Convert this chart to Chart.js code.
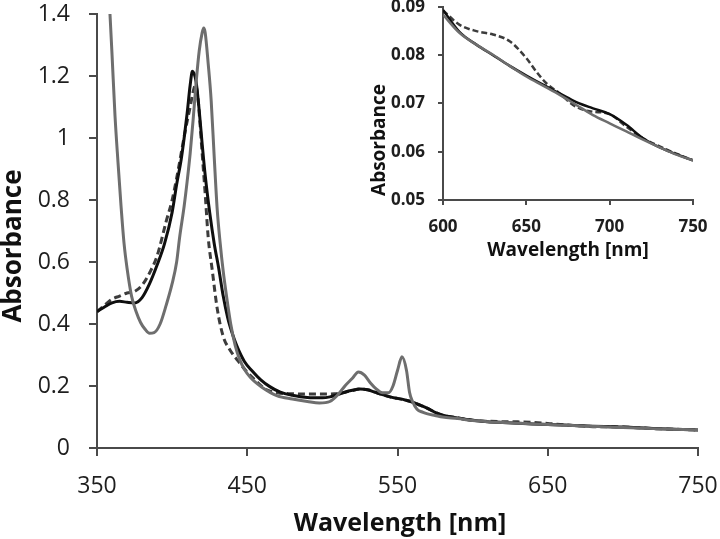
<!DOCTYPE html>
<html>
<head>
<meta charset="utf-8">
<script src="https://cdn.jsdelivr.net/npm/chart.js@4.4.1/dist/chart.umd.min.js"></script>
<style>
  html, body { margin: 0; padding: 0; background: #ffffff; }
  #wrap { position: relative; width: 720px; height: 539px; overflow: hidden; background: #ffffff; }
  #main { position: absolute; left: 0; top: 0; }
  #inset { position: absolute; left: 360px; top: 0; }
</style>
</head>
<body>
<div id="wrap">
  <canvas id="main" width="720" height="539"></canvas>
  <canvas id="inset" width="360" height="270"></canvas>
</div>
<script>
// ---------- Main panel data (350–590 nm; 600–750 nm continues with the inset data) ----------
const wlBlack = [350,355,360,365,370,375,380,385,390,395,400,403,406,408,410,412,413.5,416,418,420,422,425,428,431,434,437,440,443,448,453,459,465,472,480,490,500,505,510,515,520,525,530,535,540,545,550,555,560,565,570,575,580,590];
const absBlack = [0.44,0.455,0.468,0.473,0.47,0.468,0.485,0.53,0.59,0.66,0.76,0.85,0.93,1.0,1.08,1.17,1.215,1.18,1.09,0.98,0.88,0.76,0.66,0.58,0.49,0.42,0.37,0.33,0.28,0.25,0.22,0.198,0.18,0.17,0.163,0.162,0.165,0.172,0.18,0.186,0.19,0.188,0.18,0.172,0.165,0.16,0.155,0.148,0.138,0.128,0.115,0.106,0.097];

const wlDashed = [350,355,360,365,370,375,380,385,390,396,400,403,406,409,412,414,415.5,417,418.5,420,422,424,426.7,430,434,438,444,449,455,462,470,480,490,500,508,515,520,525,530,535,540,545,550,555,560,565,570,575,580,590];
const absDashed = [0.44,0.46,0.48,0.49,0.5,0.505,0.525,0.565,0.62,0.73,0.8,0.87,0.95,1.03,1.1,1.15,1.17,1.14,1.05,0.95,0.82,0.68,0.574,0.45,0.36,0.32,0.28,0.25,0.22,0.19,0.178,0.175,0.174,0.174,0.175,0.18,0.186,0.19,0.188,0.18,0.172,0.165,0.16,0.155,0.148,0.138,0.128,0.115,0.106,0.097];

const wlGray = [350,355,358,360,362,364,366,368,370,373,376,379,382,385,388,392,396,400,403,405,408,410,412,414,416,418,420,421,422,424,426,428,430,432,434,436.5,439,442,445,448,452,460,470,480,490,498,505,510,515,520,524,528,532,536,540,544,547,550,553,556,558,560,563,567,570,575,580,590];
const absGray = [2.3,1.75,1.46,1.27,1.07,0.92,0.78,0.66,0.58,0.49,0.44,0.405,0.383,0.37,0.372,0.40,0.46,0.53,0.6,0.68,0.78,0.86,0.95,1.06,1.18,1.28,1.34,1.355,1.34,1.24,1.12,0.94,0.77,0.66,0.57,0.48,0.40,0.33,0.285,0.255,0.228,0.195,0.168,0.158,0.15,0.145,0.15,0.17,0.2,0.225,0.245,0.235,0.21,0.19,0.178,0.178,0.2,0.25,0.294,0.25,0.18,0.15,0.125,0.115,0.11,0.105,0.1,0.095];

// ---------- Inset data (600–750 nm) ----------
const wlInset = [600,610,620,630,640,650,660,670,680,690,700,710,720,730,740,750];
const insetBlack = [0.0894,0.0848,0.0822,0.0800,0.0778,0.0758,0.0739,0.0721,0.0703,0.0690,0.0678,0.0656,0.0628,0.0609,0.0595,0.0582];
const insetGray  = [0.0884,0.0846,0.0822,0.0801,0.0778,0.0756,0.0737,0.0718,0.0697,0.0676,0.0659,0.0642,0.0625,0.0609,0.0594,0.0582];
const wlInsetDashed = [600,610,620,630,640,650,656,662,670,678,686,690,700,710,720,730,740,750];
const insetDashed = [0.0893,0.0863,0.0850,0.0843,0.0829,0.0794,0.0766,0.0742,0.0721,0.0697,0.0685,0.0683,0.0678,0.0652,0.0628,0.0611,0.0596,0.0582];

// ---------- Tick labels ----------
const mainXTicks = [350,450,550,650,750];
const mainYTicks = [0,0.2,0.4,0.6,0.8,1,1.2,1.4];
const insetXTicks = [600,650,700,750];
const insetYTicks = [0.05,0.06,0.07,0.08,0.09];

const xTitle = 'Wavelength [nm]';
const yTitle = 'Absorbance';

function pts(xs, ys) { return xs.map((x, i) => ({ x: x, y: ys[i] })); }

const axisTitles = {
  id: 'axisTitles',
  afterDraw(chart, args, opts) {
    const ctx = chart.ctx;
    (opts.items || []).forEach(it => {
      ctx.save();
      ctx.font = it.font;
      ctx.fillStyle = it.color;
      ctx.textAlign = 'center';
      ctx.textBaseline = 'middle';
      ctx.translate(it.x, it.y);
      ctx.rotate(it.rotation || 0);
      ctx.fillText(it.text, 0, 0);
      ctx.restore();
    });
  }
};

const AXIS = '#4a4a4a';
const C_BLACK = '#0f0f0f', C_DASH = '#3c3c3c', C_GRAY = '#6e6e6e';

function makeScale(opts) {
  return {
    type: 'linear',
    min: opts.min, max: opts.max,
    afterBuildTicks: s => { s.ticks = opts.ticks.map(v => ({ value: v })); },
    afterFit: s => {
      if (opts.width !== undefined) s.width = opts.width;
      if (opts.height !== undefined) s.height = opts.height;
      s.paddingTop = 0; s.paddingBottom = 0; s.paddingLeft = 0; s.paddingRight = 0;
    },
    grid: { display: true, drawOnChartArea: false, drawTicks: true, tickLength: opts.tl, color: AXIS, lineWidth: 2 },
    border: { display: true, color: AXIS, width: 2 },
    ticks: {
      font: opts.font, color: '#1e1e1e', padding: opts.pad, maxRotation: 0, autoSkip: false,
      callback: v => String(v)
    }
  };
}

const mainFont = { family: 'Open Sans', size: 23 };

new Chart(document.getElementById('main'), {
  type: 'line',
  data: {
    datasets: [
      { data: pts(wlGray.concat(wlInset), absGray.concat(insetGray)), borderColor: C_GRAY, borderWidth: 3 },
      { data: pts(wlBlack.concat(wlInset), absBlack.concat(insetBlack)), borderColor: C_BLACK, borderWidth: 3 },
      { data: pts(wlDashed.concat(wlInsetDashed), absDashed.concat(insetDashed)), borderColor: C_DASH, borderWidth: 3, borderDash: [7, 4] }
    ]
  },
  options: {
    responsive: false, animation: false, devicePixelRatio: 1,
    layout: { padding: { left: 0, right: 22, top: 14, bottom: 0 } },
    elements: { point: { radius: 0 }, line: { cubicInterpolationMode: 'monotone', fill: false } },
    plugins: {
      legend: { display: false }, tooltip: { enabled: false },
      axisTitles: { items: [
        { text: xTitle, x: 400, y: 524, font: 'bold 25px "Open Sans"', color: '#111' },
        { text: yTitle, x: 14, y: 246, rotation: -Math.PI / 2, font: 'bold 26px "Open Sans"', color: '#111' }
      ] }
    },
    scales: {
      x: makeScale({ min: 350, max: 750, ticks: mainXTicks, height: 91, tl: 8, pad: 17, font: mainFont }),
      y: makeScale({ min: 0, max: 1.4, ticks: mainYTicks, width: 97, tl: 8, pad: 19, font: mainFont })
    }
  },
  plugins: [axisTitles]
});

const insetFont = { family: 'Open Sans', size: 17, weight: 'bold' };

new Chart(document.getElementById('inset'), {
  type: 'line',
  data: {
    datasets: [
      { data: pts(wlInset, insetGray), borderColor: C_GRAY, borderWidth: 2.5 },
      { data: pts(wlInset, insetBlack), borderColor: C_BLACK, borderWidth: 2.5 },
      { data: pts(wlInsetDashed, insetDashed), borderColor: C_DASH, borderWidth: 2.5, borderDash: [6, 3] }
    ]
  },
  options: {
    responsive: false, animation: false, devicePixelRatio: 1,
    layout: { padding: { left: 0, right: 27, top: 7, bottom: 0 } },
    elements: { point: { radius: 0 }, line: { cubicInterpolationMode: 'monotone', fill: false } },
    plugins: {
      legend: { display: false }, tooltip: { enabled: false },
      axisTitles: { items: [
        { text: xTitle, x: 208, y: 251, font: 'bold 19px "Open Sans"', color: '#111' },
        { text: yTitle, x: 20, y: 140, rotation: -Math.PI / 2, font: 'bold 19px "Open Sans"', color: '#111' }
      ] }
    },
    scales: {
      x: makeScale({ min: 600, max: 750, ticks: insetXTicks, height: 70, tl: 5, pad: 12, font: insetFont }),
      y: makeScale({ min: 0.05, max: 0.09, ticks: insetYTicks, width: 83, tl: 5, pad: 13, font: insetFont })
    }
  },
  plugins: [axisTitles]
});
</script>
</body>
</html>
